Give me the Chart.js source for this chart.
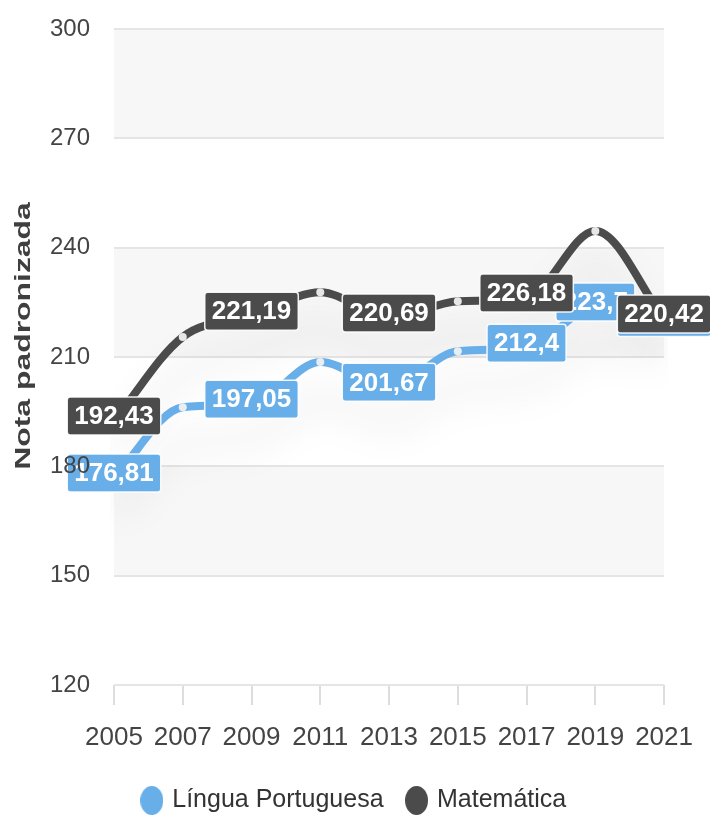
<!DOCTYPE html>
<html>
<head>
<meta charset="utf-8">
<script src="https://cdn.jsdelivr.net/npm/chart.js@4.4.1/dist/chart.umd.min.js"></script>
<style>
html,body{margin:0;padding:0;background:#fff;}
#wrap{width:710px;height:819px;position:relative;}
</style>
</head>
<body>
<div id="wrap"><canvas id="c"></canvas></div>
<script>
// ---- data ----
const years = ['2005','2007','2009','2011','2013','2015','2017','2019','2021'];
const portugues  = [176.81, 196.2, 197.05, 208.6, 201.67, 211.6, 212.4, 223.7, 219.45];
const matematica = [192.43, 215.5, 221.19, 227.8, 220.69, 225.3, 226.18, 244.6, 220.42];
const labeledPortugues  = ['2005','2009','2013','2017','2019','2021'];
const labeledMatematica = ['2005','2009','2013','2017','2021'];
const yMin = 120, yMax = 300, yStep = 30;
const seriesNames = ['Língua Portuguesa', 'Matemática'];
const axisTitle = 'Nota padronizada';

// ---- styles ----
const BLUE = '#68aee8';
const DARK = '#4b4b4b';
const FONT = "'Liberation Sans', Arial, Helvetica, sans-serif";

function fmt(v){ return String(v).replace('.', ','); }

function ellipseImg(color){
  const c = document.createElement('canvas');
  c.width = 23; c.height = 29;
  const x = c.getContext('2d');
  x.fillStyle = color;
  x.beginPath();
  x.ellipse(11.5, 14.5, 11.5, 14.5, 0, 0, Math.PI*2);
  x.fill();
  return c;
}
const legendImgs = [ellipseImg(BLUE), ellipseImg(DARK)];

const bandsPlugin = {
  id: 'bands',
  beforeDraw(chart){
    const {ctx, chartArea:a, scales:{y}} = chart;
    ctx.save();
    ctx.fillStyle = '#f7f7f7';
    let k = 0;
    for (let v = yMax; v > yMin; v -= yStep, k++) {
      if (k % 2 === 0) {
        const t = y.getPixelForValue(v), b = y.getPixelForValue(v - yStep);
        ctx.fillRect(a.left, t, a.right - a.left, b - t);
      }
    }
    ctx.restore();
  }
};

const shadowPlugin = {
  id: 'lineShadow',
  beforeDatasetDraw(chart){
    const ctx = chart.ctx;
    ctx.save();
    ctx.shadowColor = 'rgba(0,0,0,0.15)';
    ctx.shadowBlur = 40;
    ctx.shadowOffsetY = 35;
  },
  afterDatasetDraw(chart){ chart.ctx.restore(); }
};

const labelPlugin = {
  id: 'valueLabels',
  afterDatasetsDraw(chart){
    const ctx = chart.ctx;
    const sets = [
      {ds: 0, which: labeledPortugues, fill: BLUE},
      {ds: 1, which: labeledMatematica, fill: DARK}
    ];
    ctx.save();
    ctx.font = 'bold 26px ' + FONT;
    ctx.textAlign = 'center';
    ctx.textBaseline = 'middle';
    sets.forEach(s => {
      const meta = chart.getDatasetMeta(s.ds);
      const vals = chart.data.datasets[s.ds].data;
      s.which.forEach(yr => {
        const i = chart.data.labels.indexOf(yr);
        const pt = meta.data[i];
        const txt = fmt(vals[i]);
        const w = ctx.measureText(txt).width + 14;
        const h = 38;
        const cx = pt.x, cy = pt.y - 5;
        ctx.beginPath();
        ctx.roundRect(cx - w/2, cy - h/2, w, h, 3);
        ctx.fillStyle = s.fill;
        ctx.fill();
        ctx.lineWidth = 1.5;
        ctx.strokeStyle = 'rgba(255,255,255,0.9)';
        ctx.stroke();
        ctx.fillStyle = '#ffffff';
        ctx.fillText(txt, cx, cy + 1);
      });
    });
    ctx.restore();
  }
};

const titlePlugin = {
  id: 'yTitle',
  afterDraw(chart){
    const ctx = chart.ctx;
    ctx.save();
    ctx.translate(24, 336);
    ctx.rotate(-Math.PI/2);
    ctx.scale(1.45, 1);
    ctx.font = 'bold 22px ' + FONT;
    ctx.fillStyle = '#3f3f3f';
    ctx.textAlign = 'center';
    ctx.textBaseline = 'middle';
    ctx.fillText(axisTitle, 0, 0);
    ctx.restore();
  }
};

new Chart(document.getElementById('c'), {
  type: 'line',
  data: {
    labels: years,
    datasets: [
      { label: seriesNames[0], data: portugues, borderColor: BLUE, backgroundColor: BLUE,
        borderWidth: 8, cubicInterpolationMode: 'monotone',
        pointRadius: 4, pointBackgroundColor: '#e9eef3', pointBorderWidth: 0, pointHoverRadius: 4 },
      { label: seriesNames[1], data: matematica, borderColor: DARK, backgroundColor: DARK,
        borderWidth: 8, cubicInterpolationMode: 'monotone',
        pointRadius: 4, pointBackgroundColor: '#e6e6e6', pointBorderWidth: 0, pointHoverRadius: 4 }
    ]
  },
  options: {
    responsive: true,
    maintainAspectRatio: false,
    animation: false,
    events: [],
    layout: { autoPadding: false, padding: { top: 29, right: 0, left: 0, bottom: -4 } },
    scales: {
      x: {
        offset: false,
        grid: { drawOnChartArea: false, drawTicks: true, tickLength: 20, color: '#dddddd', lineWidth: 2 },
        border: { display: false },
        ticks: { color: '#444', font: { size: 26, family: FONT }, padding: 17, maxRotation: 0, autoSkip: false },
        afterFit(s){ s.height = 78; }
      },
      y: {
        min: yMin, max: yMax,
        grid: { color: '#e5e5e5', lineWidth: 2, drawTicks: false },
        border: { display: false },
        ticks: { stepSize: yStep, color: '#444', font: { size: 24, family: FONT, lineHeight: 0.4 }, padding: 24, z: 1 },
        afterFit(s){ s.width = 114; }
      },
      yRight: {
        position: 'right',
        display: true,
        min: yMin, max: yMax,
        grid: { display: false, drawTicks: false },
        border: { display: false },
        ticks: { display: false },
        afterFit(s){ s.width = 40; }
      }
    },
    plugins: {
      legend: {
        position: 'bottom',
        labels: {
          usePointStyle: true,
          boxWidth: 16, boxHeight: 16,
          padding: 25,
          color: '#333',
          font: { size: 25, family: FONT },
          generateLabels(chart){
            const items = Chart.defaults.plugins.legend.labels.generateLabels(chart);
            items.forEach((it, i) => { it.pointStyle = legendImgs[i]; });
            return items;
          }
        }
      },
      tooltip: { enabled: false },
      title: { display: false }
    }
  },
  plugins: [bandsPlugin, shadowPlugin, labelPlugin, titlePlugin]
});
</script>
</body>
</html>
